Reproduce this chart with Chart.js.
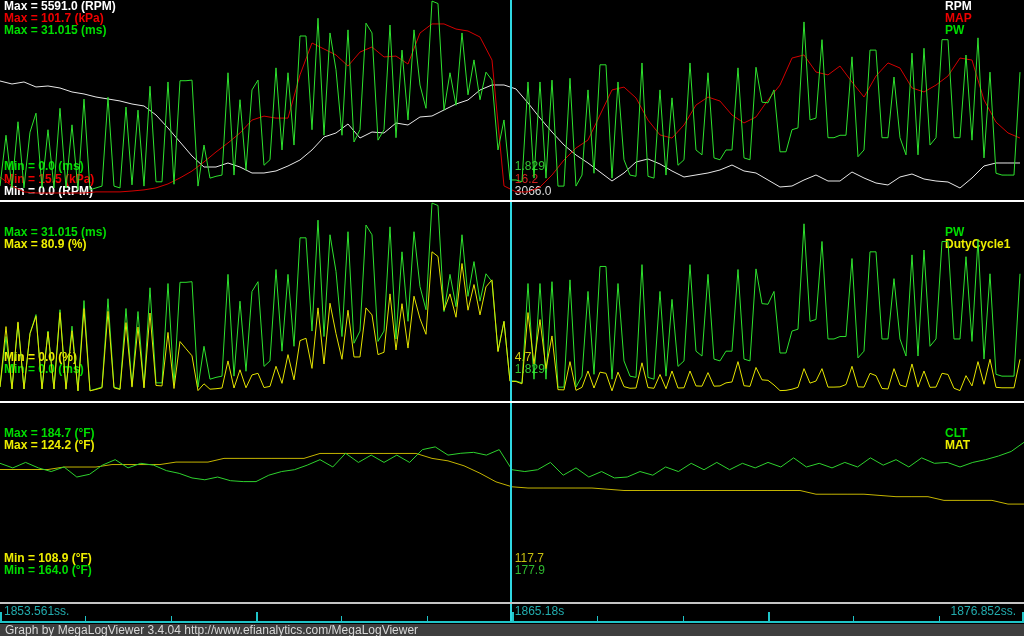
<!DOCTYPE html>
<html>
<head>
<meta charset="utf-8">
<title>MegaLogViewer graph</title>
<script src="https://cdn.jsdelivr.net/npm/chart.js@4.4.1/dist/chart.umd.min.js"></script>
<style>
    html, body { margin: 0; padding: 0; background: #000; }
    #wrap { position: relative; width: 1024px; height: 636px; overflow: hidden; background: #000; }
    #wrap canvas { position: absolute; left: 0; }
    .sep { position: absolute; left: 0; width: 1024px; }
    #footer {
        position: absolute; left: 0; top: 624px; width: 1019px; height: 12px;
        padding-left: 5px; background: #3e3e3e; color: #d8d8d8;
        font: 12px "Liberation Sans", Arial, sans-serif; line-height: 12px; white-space: nowrap;
    }
</style>
</head>
<body>
<div id="wrap">
    <canvas id="engineChart" width="1024" height="200" style="top:0px"></canvas>
    <div class="sep" style="top:200px;height:2px;background:#ffffff"></div>
    <canvas id="fuelChart" width="1024" height="199" style="top:202px"></canvas>
    <div class="sep" style="top:401px;height:2px;background:#ffffff"></div>
    <canvas id="tempChart" width="1024" height="199" style="top:403px"></canvas>
    <div class="sep" style="top:602px;height:2px;background:#c4c4c4"></div>
    <canvas id="timeChart" width="1024" height="20" style="top:604px"></canvas>
    <div id="footer">Graph by MegaLogViewer 3.4.04 http://www.efianalytics.com/MegaLogViewer</div>
</div>
<script>
// view window of the log (seconds) and cursor position
var viewStart = 1853.561;
var viewEnd = 1876.852;
var cursorTime = 1865.18;
var timeLabels = ['1853.561ss.', '1865.18s', '1876.852ss.'];

// sample spacing of each channel group (s)
var fastStep = 0.13647;   // PW, DutyCycle1
var slowStep = 0.27294;   // RPM, MAP
var cltStep = 0.29114;
var matStep = 0.36392;

// channel ranges shown as Min / Max
var rpmRange = [0, 5591.0];
var mapRange = [15.5, 101.7];
var pwRange = [0, 31.015];
var dutyRange = [0, 80.9];
var cltRange = [164.0, 184.7];
var matRange = [108.9, 124.2];

// PW (ms)
var pwValues = [
    0.8, 9.1, 0.5, 11.3, 0.5, 9.6, 12.7, 0.5, 10.0, 0.5,
    13.5, 0.5, 10.8, 0.2, 15.0, 0.2, 0.5, 0.8, 15.3, 0.8,
    0.5, 13.7, 1.0, 13.2, 0.8, 17.1, 1.5, 1.5, 17.8, 1.1,
    18.0, 18.0, 18.1, 0.8, 7.5, 2.1, 2.4, 2.6, 19.3, 2.6,
    14.9, 3.4, 16.5, 18.1, 4.2, 5.1, 20.1, 6.7, 19.3, 7.5,
    25.3, 25.3, 10.0, 28.2, 9.1, 25.8, 19.8, 9.1, 26.3, 8.0,
    10.0, 27.4, 25.8, 8.3, 10.0, 27.1, 8.7, 23.0, 11.6, 26.3,
    17.3, 13.5, 31.0, 30.6, 13.2, 19.3, 14.0, 25.8, 15.7, 21.4,
    14.9, 19.4, 18.1, 6.7, 11.6, 1.8, 1.8, 1.5, 17.8, 2.1,
    17.8, 2.1, 18.1, 0.8, 0.8, 18.4, 0.8, 2.6, 16.5, 2.9,
    20.6, 20.6, 2.1, 17.8, 5.1, 2.6, 2.4, 20.9, 2.4, 2.1,
    16.5, 2.6, 15.2, 4.2, 5.1, 20.9, 6.7, 5.9, 19.3, 5.4,
    5.1, 6.7, 6.7, 20.1, 5.4, 5.1, 20.2, 14.5, 14.4, 16.5,
    6.4, 6.4, 10.0, 10.3, 27.6, 11.6, 11.9, 24.7, 8.7, 8.7,
    9.1, 9.1, 21.9, 5.6, 6.7, 23.0, 23.0, 8.7, 8.7, 18.6,
    8.7, 5.9, 22.5, 5.9, 23.3, 7.5, 8.7, 24.7, 24.7, 8.7,
    8.7, 22.2, 8.3, 25.0, 5.4, 19.4, 2.9, 2.6, 2.6, 2.6,
    19.4
];

// DutyCycle1 (%)
var dutyValues = [
    2.2, 28, 1.3, 30, 1.3, 25, 32.4, 1.3, 25.7, 1.3,
    34, 1.2, 26.2, 0.5, 35.7, 0.5, 1.1, 1.8, 34.5, 1.8,
    1.1, 29.7, 2.1, 27.8, 1.7, 33.8, 2.8, 2.6, 25.5, 1.5,
    21.6, 18.5, 15.5, 0.6, 3.5, 1.2, 1.4, 1.7, 13.3, 1.7,
    9.5, 1.8, 7.3, 8.0, 1.9, 2.4, 11, 3.7, 16, 5.2,
    22, 23, 10.1, 36, 12.0, 38, 25, 14, 35, 15,
    15, 36, 33, 16, 17, 42, 18, 37.8, 18.8, 41,
    31.4, 24.7, 60, 58, 35, 42, 32, 55, 35, 46,
    33, 45, 48, 17.3, 30.2, 4.6, 4.5, 3.5, 34, 12,
    31, 10, 24, 1.0, 0.9, 13, 0.7, 2.0, 9, 1.7,
    8.5, 8, 0.5, 8.5, 2.3, 1.6, 1.7, 12.5, 1.9, 1.6,
    7.5, 1.4, 9, 1.7, 1.8, 9, 2.6, 2.5, 8.3, 2.5,
    2.6, 3.9, 4.3, 13, 2.7, 2.4, 10.5, 5.2, 5, 3.0,
    0.6, 0.7, 1.2, 2.0, 10, 3.8, 4.7, 10, 2.1, 2.1,
    2.2, 3.2, 11, 2.2, 2.1, 8, 7, 1.5, 1.3, 10,
    3.0, 2.2, 12, 2.1, 9, 2.0, 2.1, 8, 7.5, 1.6,
    0.6, 7, 2.6, 13, 3.3, 14, 2.0, 1.8, 1.8, 1.8,
    14
];

// RPM
var rpmValues = [
    3237, 3149, 3208, 3061, 3090, 3031, 2914, 2855, 2766, 2708,
    2649, 2560, 2502, 2237, 1854, 1442, 1030, 706, 706, 824,
    706, 530, 530, 589, 736, 912, 1207, 1589, 1707, 1972,
    1560, 1736, 1707, 2001, 1942, 2178, 2207, 2384, 2560, 2678,
    2972, 3120, 3120, 3002, 2590, 2148, 1736, 1354, 1060, 824,
    559, 294, 530, 853, 942, 795, 589, 412, 471, 530,
    618, 765, 589, 530, 324, 118, 147, 324, 471, 294,
    294, 559, 383, 235, 177, 412, 500, 353, 294, 265,
    88, 383, 736, 824, 824, 824
];

// MAP (kPa)
var mapValues = [
    22.7, 18.7, 16.0, 15.5, 15.5, 15.5, 15.5, 15.5, 16.0, 16.0,
    16.0, 16.4, 16.9, 17.8, 19.6, 22.3, 25.4, 29.5, 34.0, 38.1,
    42.6, 48.4, 50.2, 49.3, 49.3, 68.8, 83.2, 80.5, 77.8, 72.8,
    79.1, 81.4, 76.9, 77.3, 73.7, 87.7, 91.8, 91.8, 89.5, 88.6,
    85.9, 75.5, 18.7, 16.0, 16.0, 18.2, 23.6, 30.4, 35.8, 39.4,
    50.7, 62.0, 63.3, 58.4, 48.4, 41.7, 40.3, 46.2, 55.2, 58.8,
    57.0, 50.7, 47.1, 49.8, 57.5, 64.2, 76.4, 77.8, 70.1, 68.8,
    72.8, 65.6, 58.8, 68.3, 74.2, 71.9, 62.9, 61.1, 64.2, 68.3,
    76.4, 75.5, 57.5, 47.5, 42.6, 40.3
];

// CLT (°F)
var cltValues = [
    178.6, 178.1, 178.7, 178.1, 177.7, 178.2, 177.1, 177.4, 178.4, 179.0,
    178.1, 178.6, 178.4, 177.8, 177.5, 177.0, 176.8, 177.1, 176.7, 176.6,
    176.6, 177.3, 177.7, 177.9, 178.4, 179.0, 178.2, 179.7, 178.7, 179.5,
    178.7, 179.5, 178.7, 180.1, 180.4, 179.5, 179.7, 179.8, 179.5, 180.1,
    177.9, 177.7, 177.9, 178.7, 177.3, 178.1, 177.1, 177.7, 177.0, 177.1,
    177.7, 177.3, 178.2, 177.7, 178.6, 177.9, 178.7, 177.9, 178.6, 178.1,
    178.7, 178.2, 179.2, 178.2, 178.6, 178.1, 178.7, 178.2, 179.2, 178.4,
    179.0, 178.2, 179.2, 178.6, 178.7, 178.2, 178.7, 179.0, 179.4, 179.9,
    180.9
];

// MAT (°F)
var matValues = [
    119.1, 119.1, 119.1, 119.1, 119.3, 119.3, 119.3, 119.5, 119.5, 119.5,
    119.5, 119.7, 119.7, 119.7, 120.0, 120.0, 120.0, 120.0, 120.0, 120.0,
    120.4, 120.4, 120.4, 120.4, 120.4, 120.4, 120.4, 120.0, 119.8, 119.4,
    118.8, 118.1, 117.7, 117.6, 117.6, 117.6, 117.6, 117.6, 117.5, 117.4,
    117.4, 117.4, 117.4, 117.4, 117.4, 117.4, 117.4, 117.4, 117.4, 117.4,
    117.4, 117.1, 117.1, 117.1, 117.1, 117.0, 116.9, 116.9, 116.9, 116.6,
    116.6, 116.6, 116.6, 116.3, 116.3
];

// colours
var cursorColor = '#2fd8e2';
var axisColor = '#1fc4c8';
var timeTextColor = '#22acae';
var labelFont = 'bold 12px "Liberation Sans", Arial, sans-serif';
var valueFont = '12px "Liberation Sans", Arial, sans-serif';

function toPoints(values, step) {
    return values.map(function (v, i) {
        return { x: viewStart + i * step, y: v };
    });
}

// hidden y axis whose lo/hi values land on the given pixel rows of the panel
function rowAxis(range, yLo, yHi, h) {
    var lo = range[0], hi = range[1];
    var span = (hi - lo) * h / (yLo - yHi);
    var top = hi + yHi * span / h;
    return { type: 'linear', display: false, min: top - span, max: top };
}

function timeAxis() {
    return { type: 'linear', display: false, min: viewStart, max: viewEnd };
}

function trace(values, step, color, axisId, order) {
    return {
        data: toPoints(values, step),
        yAxisID: axisId,
        borderColor: color,
        borderWidth: 1,
        pointRadius: 0,
        tension: 0,
        fill: false,
        order: order
    };
}

// labels under the traces, cursor line over them
function panelDecor(labels, readouts) {
    return {
        id: 'panelDecor',
        beforeDatasetsDraw: function (chart) {
            var c = chart.ctx;
            var cx = chart.scales.x.getPixelForValue(cursorTime);
            c.save();
            c.textBaseline = 'middle';
            c.font = labelFont;
            labels.forEach(function (l) {
                c.fillStyle = l[1];
                c.fillText(l[0], l[2], l[3]);
            });
            c.font = valueFont;
            readouts.forEach(function (r) {
                c.fillStyle = r[1];
                c.fillText(r[0], cx + 4, r[2]);
            });
            c.restore();
        },
        afterDatasetsDraw: function (chart) {
            var c = chart.ctx;
            var cx = Math.round(chart.scales.x.getPixelForValue(cursorTime));
            c.save();
            c.fillStyle = cursorColor;
            c.fillRect(cx - 1, 0, 2, chart.height);
            c.restore();
        }
    };
}

function panelOptions(scales) {
    return {
        responsive: false,
        animation: false,
        devicePixelRatio: 1,
        events: [],
        layout: { padding: 0 },
        plugins: { legend: { display: false }, tooltip: { enabled: false } },
        scales: scales
    };
}

//Panel 1: RPM, MAP, PW
var ctx = document.getElementById('engineChart').getContext('2d');
var engineChart = new Chart(ctx, {
    type: 'line',
    data: {
        datasets: [
            trace(pwValues, fastStep, '#2ee22e', 'yPW', 0),
            trace(mapValues, slowStep, '#d40000', 'yMAP', 1),
            trace(rpmValues, slowStep, '#e8e8e8', 'yRPM', 2)
        ]
    },
    options: panelOptions({
        x: timeAxis(),
        yPW: rowAxis(pwRange, 191, 1, 200),
        yMAP: rowAxis(mapRange, 193, 2, 200),
        yRPM: rowAxis(rpmRange, 191, 1, 200)
    }),
    plugins: [panelDecor([
        ['Max = 5591.0 (RPM)', '#ffffff', 4, 7],
        ['Max = 101.7 (kPa)', '#ee0000', 4, 19],
        ['Max = 31.015 (ms)', '#00dd00', 4, 31],
        ['Min = 0.0 (ms)', '#00dd00', 4, 167],
        ['Min = 15.5 (kPa)', '#ee0000', 4, 180],
        ['Min = 0.0 (RPM)', '#ffffff', 4, 192],
        ['RPM', '#ffffff', 945, 7],
        ['MAP', '#ee0000', 945, 19],
        ['PW', '#00dd00', 945, 31]
    ], [
        ['1.829', '#33c433', 167],
        ['16.2', '#d42020', 180],
        ['3066.0', '#dcdcdc', 192]
    ])]
});

//Panel 2: PW, DutyCycle1
var ctx = document.getElementById('fuelChart').getContext('2d');
var fuelChart = new Chart(ctx, {
    type: 'line',
    data: {
        datasets: [
            trace(dutyValues, fastStep, '#e4e400', 'yDuty', 0),
            trace(pwValues, fastStep, '#2ee22e', 'yPW', 1)
        ]
    },
    options: panelOptions({
        x: timeAxis(),
        yPW: rowAxis(pwRange, 190, 1, 199),
        yDuty: rowAxis(dutyRange, 190, 1, 199)
    }),
    plugins: [panelDecor([
        ['Max = 31.015 (ms)', '#00dd00', 4, 31],
        ['Max = 80.9 (%)', '#eeee00', 4, 43],
        ['Min = 0.0 (%)', '#eeee00', 4, 156],
        ['Min = 0.0 (ms)', '#00dd00', 4, 168],
        ['PW', '#00dd00', 945, 31],
        ['DutyCycle1', '#eeee00', 945, 43]
    ], [
        ['4.7', '#d4cc10', 156],
        ['1.829', '#33c433', 168]
    ])]
});

//Panel 3: CLT, MAT
var ctx = document.getElementById('tempChart').getContext('2d');
var tempChart = new Chart(ctx, {
    type: 'line',
    data: {
        datasets: [
            trace(cltValues, cltStep, '#2ed22e', 'yCLT', 0),
            trace(matValues, matStep, '#c4b400', 'yMAT', 1)
        ]
    },
    options: panelOptions({
        x: timeAxis(),
        yCLT: rowAxis(cltRange, 193.7, 4.6, 199),
        yMAT: rowAxis(matRange, 192.5, 3.5, 199)
    }),
    plugins: [panelDecor([
        ['Max = 184.7 (\u00b0F)', '#00dd00', 4, 31],
        ['Max = 124.2 (\u00b0F)', '#eeee00', 4, 43],
        ['Min = 108.9 (\u00b0F)', '#eeee00', 4, 156],
        ['Min = 164.0 (\u00b0F)', '#00dd00', 4, 168],
        ['CLT', '#00dd00', 945, 31],
        ['MAT', '#eeee00', 945, 43]
    ], [
        ['117.7', '#c8c010', 156],
        ['177.9', '#2fb82f', 168]
    ])]
});

//Time strip under the panels
var timeStrip = {
    id: 'timeStrip',
    afterDraw: function (chart) {
        var c = chart.ctx, xs = chart.scales.x;
        var w = chart.width, h = chart.height;
        var span = viewEnd - viewStart;
        c.save();
        c.fillStyle = axisColor;
        c.fillRect(0, h - 3, w, 2);
        for (var k = 0; k <= 12; k++) {
            var major = k % 3 === 0;
            var tw = major ? 2 : 1;
            var len = major ? 9 : 5;
            var px = Math.round(xs.getPixelForValue(viewStart + span * k / 12));
            px = Math.min(Math.max(px, 0), w - tw);
            c.fillRect(px, h - 3 - len, tw, len);
        }
        var cx = Math.round(xs.getPixelForValue(cursorTime));
        c.fillStyle = cursorColor;
        c.fillRect(cx - 1, 0, 2, h - 3);
        c.font = valueFont;
        c.fillStyle = timeTextColor;
        c.textBaseline = 'middle';
        c.textAlign = 'left';
        c.fillText(timeLabels[0], xs.getPixelForValue(viewStart) + 4, 8);
        c.fillText(timeLabels[1], xs.getPixelForValue(cursorTime) + 4, 8);
        c.textAlign = 'right';
        c.fillText(timeLabels[2], xs.getPixelForValue(viewEnd) - 8, 8);
        c.restore();
    }
};

var ctx = document.getElementById('timeChart').getContext('2d');
var timeChart = new Chart(ctx, {
    type: 'line',
    data: { datasets: [] },
    options: panelOptions({
        x: timeAxis(),
        y: { display: false }
    }),
    plugins: [timeStrip]
});
</script>
</body>
</html>
